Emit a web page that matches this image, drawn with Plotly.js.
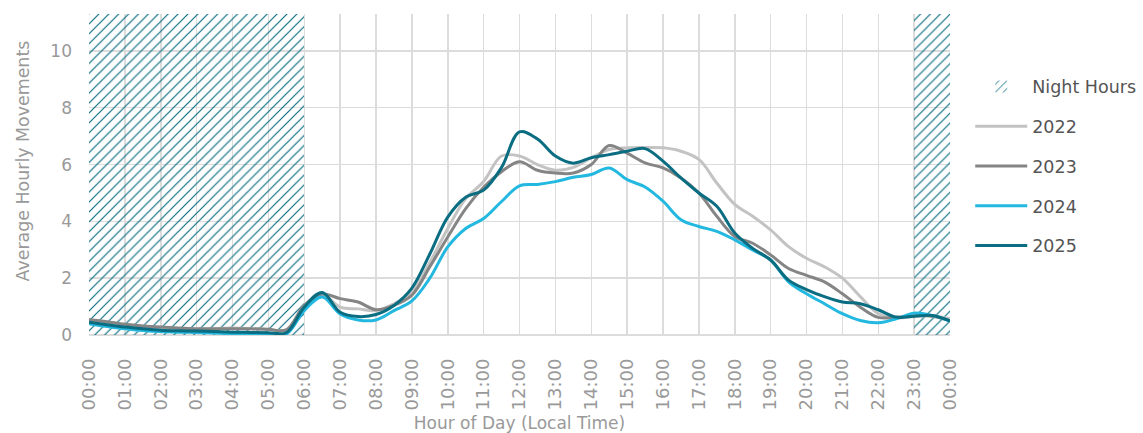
<!DOCTYPE html>
<html>
<head>
<meta charset="utf-8">
<script src="https://cdn.plot.ly/plotly-3.0.1.min.js"></script>
<style>html,body{margin:0;padding:0;background:#fff;}#chart{width:1143px;height:433px;}</style>
</head>
<body>
<div id="chart"></div>
<script>
// Half-hourly samples, 00:00 to 24:00
const hours = [0,0.5,1,1.5,2,2.5,3,3.5,4,4.5,5,5.5,6,6.5,7,7.5,8,8.5,9,9.5,10,10.5,11,11.5,12,12.5,13,13.5,14,14.5,15,15.5,16,16.5,17,17.5,18,18.5,19,19.5,20,20.5,21,21.5,22,22.5,23,23.5,24];

const y2022 = [0.5,0.42,0.35,0.3,0.25,0.22,0.2,0.22,0.25,0.22,0.2,0.18,
  0.98,1.43,0.98,0.92,0.86,1.1,
  1.5,2.55,3.75,4.8,5.4,6.3,6.3,6.0,5.8,5.9,
  6.24,6.53,6.59,6.6,6.59,6.47,6.18,5.35,4.6,4.18,
  3.7,3.11,2.7,2.4,2.0,1.35,0.75,0.6,0.65,0.68,0.57];

const y2023 = [0.55,0.47,0.38,0.32,0.28,0.25,0.22,0.22,0.22,0.22,0.2,0.18,
  1.04,1.44,1.28,1.16,0.89,1.04,
  1.4,2.4,3.45,4.45,5.2,5.75,6.1,5.8,5.7,5.7,
  6.0,6.67,6.4,6.06,5.88,5.53,5.0,4.18,3.47,3.23,
  2.82,2.34,2.1,1.87,1.45,0.98,0.62,0.62,0.68,0.66,0.5];

const y2024 = [0.4,0.3,0.22,0.16,0.12,0.1,0.09,0.07,0.05,0.04,0.03,0.03,
  0.86,1.34,0.74,0.53,0.53,0.86,
  1.2,2.0,3.1,3.75,4.1,4.7,5.25,5.3,5.4,5.55,
  5.65,5.88,5.47,5.21,4.71,4.06,3.82,3.65,3.35,2.99,
  2.64,1.87,1.45,1.1,0.75,0.51,0.43,0.57,0.77,0.69,0.49];

const y2025 = [0.45,0.36,0.28,0.22,0.17,0.15,0.14,0.12,0.1,0.09,0.08,0.08,
  0.98,1.5,0.8,0.65,0.72,1.04,
  1.65,2.85,4.15,4.85,5.1,5.9,7.15,6.9,6.3,6.05,
  6.24,6.35,6.47,6.56,6.12,5.53,5.0,4.53,3.59,3.05,
  2.64,1.93,1.6,1.35,1.16,1.1,0.89,0.63,0.66,0.69,0.5];

// Night hour bands: [start, end]
const nightStarts = [0, 23];
const nightEnds = [6, 24];

const tickVals = [0,1,2,3,4,5,6,7,8,9,10,11,12,13,14,15,16,17,18,19,20,21,22,23,24];
const tickText = ["00:00","01:00","02:00","03:00","04:00","05:00","06:00","07:00","08:00","09:00","10:00","11:00","12:00","13:00","14:00","15:00","16:00","17:00","18:00","19:00","20:00","21:00","22:00","23:00","00:00"];

const seriesNames = ["2022","2023","2024","2025"];
const seriesData = [y2022, y2023, y2024, y2025];
const seriesColors = ["#c3c3c3","#858585","#22b8e0","#0a6d82"];

const yMax = 11.3;
const FONT = "DejaVu Sans, sans-serif";

const traces = [];
traces.push({
  type: "bar",
  name: "Night Hours",
  legendgroup: "night",
  x: nightStarts.map((s, i) => (s + nightEnds[i]) / 2),
  width: nightStarts.map((s, i) => nightEnds[i] - s),
  y: nightStarts.map(() => yMax),
  marker: {
    color: "rgba(0,0,0,0)",
    line: {width: 0},
    pattern: {shape: "/", fgcolor: "#0a6d82", bgcolor: "rgba(0,0,0,0)", size: 7, solidity: 0.17}
  },
  hoverinfo: "skip"
});
seriesNames.forEach((n, i) => {
  traces.push({
    type: "scatter",
    mode: "lines",
    name: n,
    legendgroup: "g" + n,
    x: hours,
    y: seriesData[i],
    line: {color: seriesColors[i], width: 3, shape: "spline", smoothing: 1}
  });
});

const layout = {
  width: 1143,
  height: 433,
  margin: {l: 89, r: 193, t: 14, b: 98, autoexpand: false},
  paper_bgcolor: "#fff",
  plot_bgcolor: "#fff",
  font: {family: FONT, color: "#999"},
  bargap: 0,
  showlegend: true,
  hovermode: false,
  legend: {
    x: 1.0235, xanchor: "left",
    y: 0.83, yanchor: "top",
    font: {family: FONT, size: 17.5, color: "#555"},
    tracegroupgap: 14,
    itemwidth: 52,
    bgcolor: "rgba(0,0,0,0)"
  },
  xaxis: {
    range: [0, 24],
    tickvals: tickVals,
    ticktext: tickText,
    tickangle: -90,
    tickfont: {family: FONT, size: 18, color: "#999"},
    ticklabelstandoff: 19,
    showgrid: true,
    gridcolor: "#dcdcdc",
    gridwidth: 1.5,
    zeroline: false,
    showline: false,
    ticks: "",
    title: {text: "Hour of Day (Local Time)", font: {family: FONT, size: 17, color: "#999"}, standoff: 8}
  },
  yaxis: {
    range: [0, yMax],
    tickvals: [0,2,4,6,8,10],
    tickfont: {family: FONT, size: 17, color: "#999"},
    showgrid: true,
    gridcolor: "#dcdcdc",
    gridwidth: 1.5,
    zeroline: true,
    zerolinecolor: "#dcdcdc",
    zerolinewidth: 1.5,
    ticks: "",
    ticklabelstandoff: 16
  },
  annotations: [{
    text: "Average Hourly Movements",
    xref: "paper", yref: "paper",
    x: -0.077, y: 0.543,
    xanchor: "center", yanchor: "middle",
    textangle: -90,
    showarrow: false,
    font: {family: FONT, size: 17.4, color: "#999"}
  }]
};

Plotly.newPlot("chart", traces, layout, {displayModeBar: false, staticPlot: true});
</script>
</body>
</html>
